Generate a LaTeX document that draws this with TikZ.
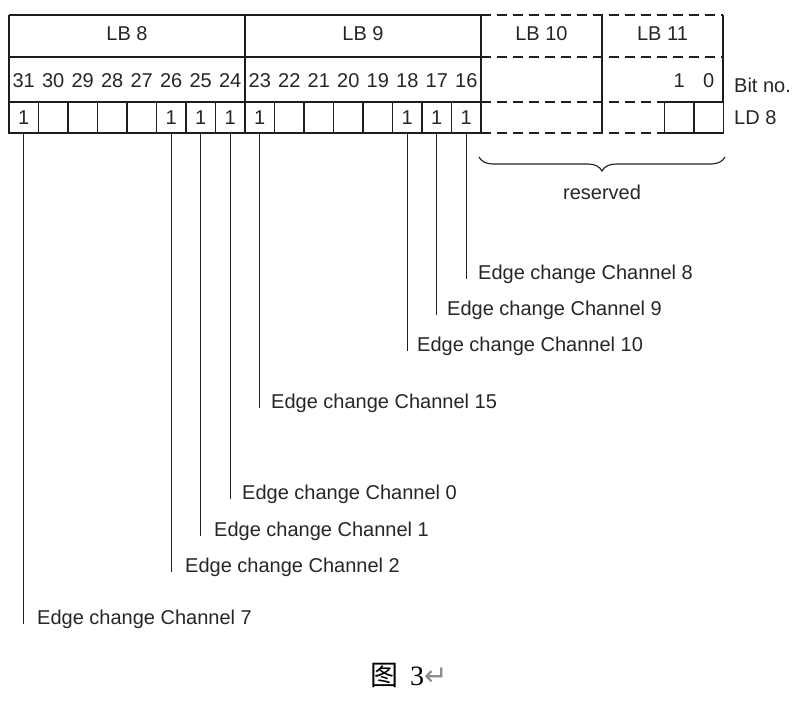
\documentclass[tikz,border=0pt]{standalone}
\usepackage{fontspec}
\usepackage{tikz}
\setmainfont{Liberation Sans}
\newfontfamily\cjkfont{Noto Sans CJK SC}
\newfontfamily\capfont{Liberation Serif}
\newfontfamily\symbfont{DejaVu Sans}
\usetikzlibrary{decorations.pathreplacing}
\definecolor{ldline}{HTML}{1E1E1E}
\definecolor{ldtext}{HTML}{262626}
\definecolor{ldmark}{HTML}{8A8A8A}
\newcommand\ldfont{\fontsize{20}{23}\selectfont}
\tikzset{
  frame/.style={draw=ldline, line width=1.4pt},
  resframe/.style={draw=ldline, line width=1.4pt, dash pattern=on 10pt off 6pt},
  bitcell/.style={
    draw=ldline, line width=1.4pt, minimum width=29.5pt, minimum height=31pt,
    inner sep=0pt, font=\ldfont, text=ldtext
  },
  bitnum/.style={inner sep=0pt, font=\ldfont, text=ldtext},
  chlabel/.style={anchor=base west, inner sep=0pt, font=\ldfont, text=ldtext},
  wire/.style={draw=ldline, line width=1.4pt},
  resbrace/.style={
    draw=ldline, line width=1.1pt,
    decorate, decoration={brace, mirror, amplitude=14pt}
  }
}

\begin{document}
\begin{tikzpicture}[x=1pt, y=-1pt]
  \useasboundingbox (0,0) rectangle (792,701);

  % byte frame
  \draw[frame] (9,15) -- (481,15);
  \draw[frame] (9,57) -- (481,57);
  \draw[frame] (9,15) -- (9,102);
  \draw[frame] (245,15) -- (245,102);
  \draw[frame] (481,15) -- (481,102);
  \draw[frame] (602,15) -- (602,133);
  \draw[frame] (723,15) -- (723,102);
  \draw[resframe] (481,15) -- (723,15);
  \draw[resframe] (481,57) -- (723,57);
  \draw[resframe] (481,102) -- (664,102);
  \draw[resframe] (481,133) -- (664,133);

  % byte names
  \node[bitnum] (lb8)  at (127,34)    {LB 8};
  \node[bitnum] (lb9)  at (363,34)    {LB 9};
  \node[bitnum] (lb10) at (541.5,34)  {LB 10};
  \node[bitnum] (lb11) at (662.5,34)  {LB 11};

  % bit cells and numbers
  \foreach \b in {16,...,31} {
    \node[bitcell] (bit\b) at ({9+(31.5-\b)*29.5}, 117.5) {};
    \node[bitnum]  (nr\b)  at ({9+(31.5-\b)*29.5}, 81) {\b};
  }
  \node[bitcell] (bit1) at (679.25,117.5) {};
  \node[bitcell] (bit0) at (708.75,117.5) {};
  \node[bitnum]  (nr1)  at (679.25,81) {1};
  \node[bitnum]  (nr0)  at (708.75,81) {0};
  \foreach \b in {31,26,25,24,23,18,17,16}
    \node[bitnum] (one\b) at (bit\b) {1};

  \node[bitnum, anchor=west] (bitno) at (734,85)  {Bit no.};
  \node[bitnum, anchor=west] (ld8)   at (734,118) {LD 8};

  % reserved
  \coordinate (resL) at (479,157);
  \coordinate (resR) at (725,157);
  \draw[resbrace] (resL) -- (resR);
  \node[bitnum] (reserved) at (602,192) {reserved};

  % channel labels
  \node[chlabel] (ch8)  at (478,279) {Edge change Channel 8};
  \node[chlabel] (ch9)  at (447,315) {Edge change Channel 9};
  \node[chlabel] (ch10) at (417,351) {Edge change Channel 10};
  \node[chlabel] (ch15) at (271,408) {Edge change Channel 15};
  \node[chlabel] (ch0)  at (242,499) {Edge change Channel 0};
  \node[chlabel] (ch1)  at (214,536) {Edge change Channel 1};
  \node[chlabel] (ch2)  at (185,572) {Edge change Channel 2};
  \node[chlabel] (ch7)  at (37,624)  {Edge change Channel 7};

  \draw[wire] (bit16.south) -- (bit16.south |- ch8.base);
  \draw[wire] (bit17.south) -- (bit17.south |- ch9.base);
  \draw[wire] (bit18.south) -- (bit18.south |- ch10.base);
  \draw[wire] (bit23.south) -- (bit23.south |- ch15.base);
  \draw[wire] (bit24.south) -- (bit24.south |- ch0.base);
  \draw[wire] (bit25.south) -- (bit25.south |- ch1.base);
  \draw[wire] (bit26.south) -- (bit26.south |- ch2.base);
  \draw[wire] (bit31.south) -- (bit31.south |- ch7.base);

  % caption
  \node[inner sep=0pt, anchor=west, text=black] (fig) at (370,675)
    {\fontsize{28}{32}\selectfont{\cjkfont 图}\hspace{12pt}{\capfont 3}{\symbfont\color{ldmark}↵}};
\end{tikzpicture}
\end{document}
